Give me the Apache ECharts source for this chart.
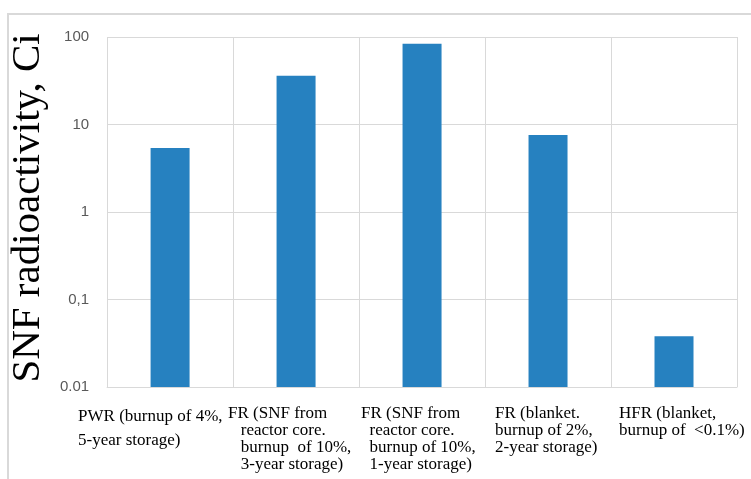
<!DOCTYPE html>
<html>
<head>
<meta charset="utf-8">
<script src="https://cdn.jsdelivr.net/npm/echarts@6/dist/echarts.min.js"></script>
<style>
  html, body { margin: 0; padding: 0; background: #fff; }
  #frame { position: absolute; left: 7px; top: 13px; width: 760px; height: 480px;
           border-left: 2px solid #d9d9d9; border-top: 2px solid #d9d9d9; }
  #chart { position: absolute; left: 0; top: 0; width: 751px; height: 479px; }
</style>
</head>
<body>
<div id="frame"></div>
<div id="chart"></div>
<script>
// categories (one label per bar, line breaks as in the figure)
const categories = [
  'PWR (burnup of 4%,\n5-year storage)',
  'FR (SNF from\n   reactor core.\n   burnup  of 10%,\n   3-year storage)',
  'FR (SNF from\n  reactor core.\n  burnup of 10%,\n  1-year storage)',
  'FR (blanket.\nburnup of 2%,\n2-year storage)',
  'HFR (blanket,\nburnup of  <0.1%)'
]
// SNF radioactivity, Ci
const activity = [5.4, 36, 84, 7.6, 0.038]
// y tick labels as printed
const tickValues = [0.01, 0.1, 1, 10, 100]
const tickLabels = ['0.01', '0,1', '1', '10', '100']
const yMin = 0.01
const yMax = 100

// label block widths / line heights per category (left edge of text)
const labelWidth = [184, 136, 122, 106, 110]
const labelLine = [24, 17, 17, 17, 17]

const rich = {}
labelWidth.forEach((w, i) => {
  rich['c' + i] = {
    width: w,
    align: 'left',
    lineHeight: labelLine[i],
    fontFamily: 'Liberation Serif',
    fontSize: 17,
    color: '#000'
  }
})

const chart = echarts.init(document.getElementById('chart'))

// bars grow from the bottom of the log axis (0.01), not from 1
const renderBar = (params, api) => {
  const idx = api.value(0)
  const top = api.coord([idx, api.value(1)])
  const base = api.coord([idx, yMin])
  const w = 39
  return {
    type: 'rect',
    shape: {x: top[0] - w / 2, y: top[1], width: w, height: base[1] - top[1]},
    style: {fill: '#2681c0'}
  }
}

const option = {
  animation: false,
  grid: {left: 105, right: 14, top: 37, bottom: 92},
  xAxis: {
    type: 'category',
    data: categories,
    axisLine: {lineStyle: {color: '#d9d9d9', width: 1}},
    axisTick: {show: false},
    splitLine: {show: true, lineStyle: {color: '#d9d9d9', width: 1}},
    axisLabel: {
      interval: 0,
      margin: 18,
      align: 'center',
      formatter: (val, idx) => '{c' + idx + '|' + val + '}',
      rich: rich
    }
  },
  yAxis: {
    type: 'log',
    logBase: 10,
    min: yMin,
    max: yMax,
    name: 'SNF radioactivity, Ci',
    nameLocation: 'middle',
    nameGap: 42,
    nameTextStyle: {fontFamily: 'Liberation Serif', fontSize: 41, color: '#000', padding: [0, 0, 0, 8]},
    axisLine: {show: false},
    axisTick: {show: false},
    splitLine: {lineStyle: {color: '#d9d9d9', width: 1}},
    axisLabel: {
      margin: 18,
      color: '#595959',
      fontFamily: 'Liberation Sans',
      fontSize: 15,
      formatter: v => {
        const i = tickValues.findIndex(t => Math.abs(Math.log10(t) - Math.log10(v)) < 1e-6)
        return i >= 0 ? tickLabels[i] : ''
      }
    }
  },
  series: [{
    type: 'custom',
    renderItem: renderBar,
    encode: {x: 0, y: 1},
    data: activity.map((v, i) => [i, v])
  }]
}
chart.setOption(option)
</script>
</body>
</html>
